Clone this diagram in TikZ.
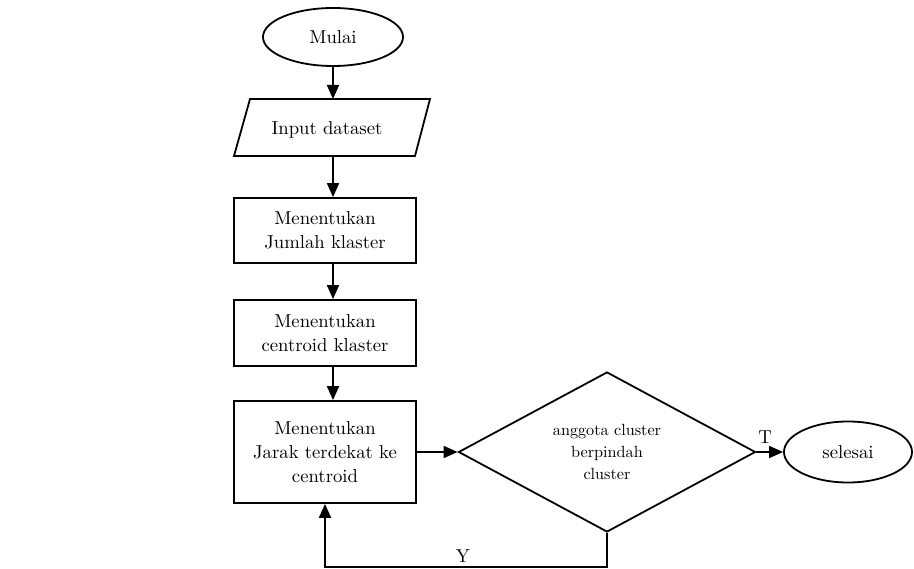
\documentclass[tikz,border=0pt]{standalone}
\usepackage{fontspec}
\setmainfont{lmroman10-regular.otf}
\usetikzlibrary{shapes.geometric,arrows.meta}
\begin{document}
\begin{tikzpicture}[x=1pt,y=-1pt,line width=1.8pt,
  arr/.style={-{Triangle[length=14pt,width=12pt]}},
  txt/.style={font=\fontsize{18.7}{24}\selectfont},
  term/.style={draw,ellipse,inner sep=0pt,txt},
  proc/.style={draw,rectangle,minimum width=182pt,inner sep=0pt,align=center,txt},
  dec/.style={draw,diamond,aspect=1.86,inner sep=0pt,minimum width=297pt,minimum height=160pt,align=center,font=\fontsize{16.2}{22}\selectfont},
  lbl/.style={inner sep=0pt,txt}]
\useasboundingbox (0,0) rectangle (914,569);
% start
\node[term,minimum width=140pt,minimum height=58pt] (mulai) at (333,37) {Mulai};
% input parallelogram
\draw (250,99) -- (430,99) -- (415,156) -- (234,156) -- cycle;
\node[txt,inner sep=0pt] (inp) at (327,130) {Input dataset};
\coordinate (inT) at (333,99);
\coordinate (inB) at (333,156);
% process boxes
\node[proc,minimum height=65pt] (b1) at (325,230.5) {Menentukan\\Jumlah klaster};
\node[proc,minimum height=66pt] (b2) at (325,333) {Menentukan\\centroid klaster};
\node[proc,minimum height=102pt] (b3) at (325,452) {Menentukan\\Jarak terdekat ke\\centroid};
% decision
\node[dec] (d) at (607,452) {anggota cluster\\berpindah\\cluster};
% end
\node[term,minimum width=128pt,minimum height=61pt] (sel) at (848,452) {selesai};
% connectors
\draw[arr] (mulai.south) -- (inT);
\draw[arr] (inB) -- (b1.north -| inB);
\draw[arr] (b1.south -| inB) -- (b2.north -| inB);
\draw[arr] (b2.south -| inB) -- (b3.north -| inB);
\draw[arr] (b3.east) -- (d.west);
\draw[arr] (d.east) -- (sel.west);
\coordinate (lp) at (607,567);
\draw[arr] (d.south) -- (lp) -| (b3.south);
% labels
\node[lbl] (tl) at (765,437) {T};
\node[lbl] (yl) at (463,556) {Y};
\end{tikzpicture}
\end{document}
